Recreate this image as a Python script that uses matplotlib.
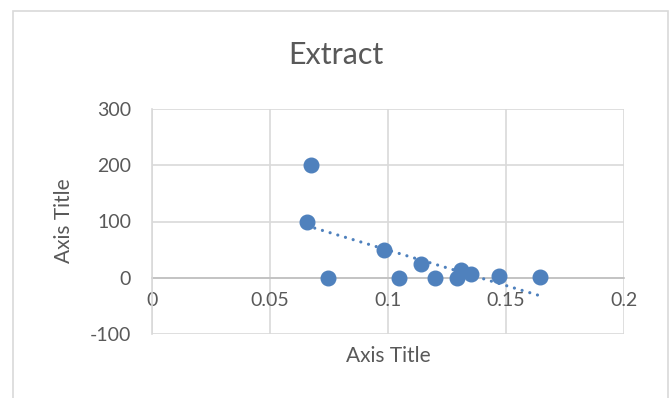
import numpy as np
import matplotlib
matplotlib.use('Agg')
import matplotlib.pyplot as plt
from matplotlib.patches import Rectangle

# data
x_vals = [0.0657, 0.0674, 0.0746, 0.0983, 0.1047, 0.1140, 0.1199, 0.1292, 0.1310, 0.1350, 0.1470, 0.1644]
y_vals = [100, 200, 0, 50, 0, 25, 0, 0, 13, 6, 4, 1]
x_ticks = [0, 0.05, 0.1, 0.15, 0.2]
x_labels = ['0', '0.05', '0.1', '0.15', '0.2']
y_ticks = [-100, 0, 100, 200, 300]

blue = '#4F81BD'
grey_txt = '#595959'
grid_col = '#D9D9D9'

plt.rcParams['font.family'] = ['Lato', 'DejaVu Sans']
plt.rcParams['axes.unicode_minus'] = False

fig = plt.figure(figsize=(6.71, 3.98), dpi=100)
ax = fig.add_axes([152/671, 1 - 334/398, (624 - 152)/671, (334 - 109)/398])

# chart area border
fig.patches.append(Rectangle((13/671, -0.1), (668 - 13)/671, 1.1 - 11/398,
                             transform=fig.transFigure, fill=False,
                             edgecolor=grid_col, linewidth=1.2))

ax.plot(x_vals, y_vals, 'o', color=blue, markersize=10.5, zorder=3)

# linear trendline
k, b = np.polyfit(x_vals, y_vals, 1)
tx = np.array([min(x_vals), max(x_vals)])
ax.plot(tx, k*tx + b, color=blue, linewidth=2.3, linestyle=(0, (0.01, 2.5)),
        dash_capstyle='round', zorder=2)

ax.set_xlim(0, 0.2)
ax.set_ylim(-100, 300)
ax.set_xticks(x_ticks)
ax.set_xticklabels(x_labels)
ax.set_yticks(y_ticks)
ax.grid(True, color=grid_col, linewidth=1.2)
ax.set_axisbelow(True)

for s in ['top', 'right']:
    ax.spines[s].set_visible(False)
ax.spines['bottom'].set_position(('data', 0))
ax.spines['bottom'].set_color('#BFBFBF')
ax.spines['left'].set_color(grid_col)
ax.spines['bottom'].set_linewidth(1.2)
ax.spines['left'].set_linewidth(1.2)
ax.spines['bottom'].set_zorder(1)

ax.tick_params(axis='both', length=0, labelsize=14, labelcolor=grey_txt)
ax.tick_params(axis='y', pad=15)
ax.tick_params(axis='x', pad=10)

fig.text(336/671, 1 - 55/398, 'Extract', fontsize=22, color=grey_txt,
         ha='center', va='center')
fig.text(388/671, 1 - 356/398, 'Axis Title', fontsize=15, color=grey_txt,
         ha='center', va='center')
fig.text(64/671, 1 - 221/398, 'Axis Title', fontsize=15, color=grey_txt,
         ha='center', va='center', rotation=90)

fig.savefig('out.png', dpi=100)
